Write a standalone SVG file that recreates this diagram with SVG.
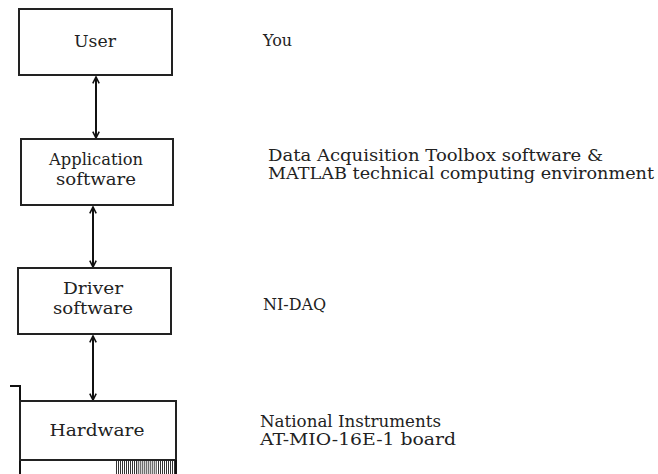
<svg xmlns="http://www.w3.org/2000/svg" width="658" height="474" viewBox="0 0 658 474">
<defs>
<style>
.box{fill:#fff;stroke:#222;stroke-width:2}
.t{font-family:"DejaVu Serif","Liberation Serif",serif;font-size:16px;fill:#222}
.c{text-anchor:middle}
.conn{stroke:#111;stroke-width:2;fill:none}
</style>
<marker id="ah" viewBox="0 0 10 10" refX="9" refY="5" markerWidth="8" markerHeight="8" markerUnits="userSpaceOnUse" orient="auto-start-reverse">
<path d="M1,1 L9,5 L1,9" fill="none" stroke="#111" stroke-width="2"/>
</marker>
<pattern id="hp" x="0" y="0" width="2" height="20" patternUnits="userSpaceOnUse">
<rect x="0" y="0" width="1" height="20" fill="#333"/>
</pattern>
</defs>
<g id="connectors">
<line class="conn" x1="96" y1="77" x2="96" y2="138" marker-start="url(#ah)" marker-end="url(#ah)"/>
<line class="conn" x1="93" y1="207" x2="93" y2="267" marker-start="url(#ah)" marker-end="url(#ah)"/>
<line class="conn" x1="93" y1="336" x2="93" y2="400" marker-start="url(#ah)" marker-end="url(#ah)"/>
</g>
<g id="user">
<rect class="box" x="19" y="9" width="153" height="66"/>
<text class="t c" x="95" y="47" textLength="42" lengthAdjust="spacingAndGlyphs">User</text>
</g>
<g id="application">
<rect class="box" x="21" y="139" width="152" height="66"/>
<text class="t c" x="96" y="165" textLength="94" lengthAdjust="spacingAndGlyphs">Application</text>
<text class="t c" x="96" y="185" textLength="80" lengthAdjust="spacingAndGlyphs">software</text>
</g>
<g id="driver">
<rect class="box" x="18" y="268" width="153" height="66"/>
<text class="t c" x="93" y="294" textLength="60" lengthAdjust="spacingAndGlyphs">Driver</text>
<text class="t c" x="93" y="314" textLength="80" lengthAdjust="spacingAndGlyphs">software</text>
</g>
<g id="hardware">
<polyline class="conn" points="10,386 20,386 20,474" stroke-width="1.5"/>
<rect class="box" x="20" y="401" width="156" height="59"/>
<line class="conn" x1="176" y1="460" x2="176" y2="474" stroke-width="1.5"/>
<rect x="115" y="461" width="61" height="13" fill="url(#hp)"/>
<rect x="137" y="461" width="20" height="13" fill="#aaa" opacity="0.5"/>
<text class="t c" x="97" y="436" textLength="95" lengthAdjust="spacingAndGlyphs">Hardware</text>
</g>
<g id="labels">
<text class="t" x="263" y="46">You</text>
<text class="t" x="268" y="161" textLength="335" lengthAdjust="spacingAndGlyphs">Data Acquisition Toolbox software &amp;</text>
<text class="t" x="268" y="179" textLength="386" lengthAdjust="spacingAndGlyphs">MATLAB technical computing environment</text>
<text class="t" x="263" y="310">NI-DAQ</text>
<text class="t" x="260" y="427" textLength="181" lengthAdjust="spacingAndGlyphs">National Instruments</text>
<text class="t" x="260" y="445" textLength="196" lengthAdjust="spacingAndGlyphs">AT-MIO-16E-1 board</text>
</g>
</svg>
